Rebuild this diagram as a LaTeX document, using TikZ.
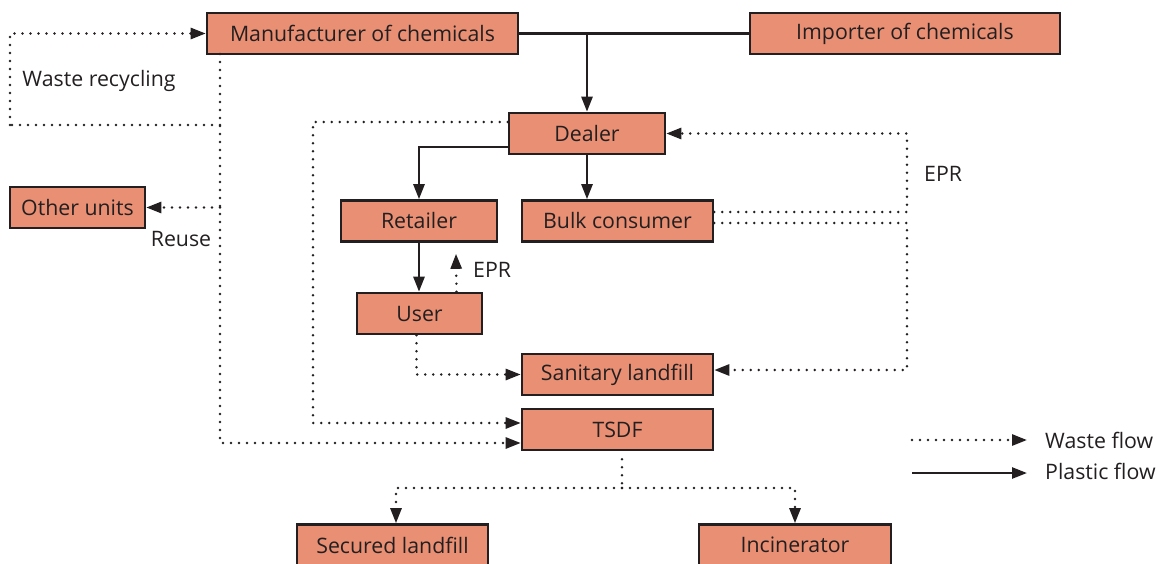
\documentclass[tikz,border=0pt]{standalone}
\usepackage{fontspec}
\setmainfont{Open Sans}
\usetikzlibrary{arrows.meta}
\definecolor{boxfill}{HTML}{E98F74}
\definecolor{ink}{HTML}{231F20}
\begin{document}
\begin{tikzpicture}[x=1pt,y=-1pt,
  font=\fontsize{21.3}{25}\selectfont,
  every node/.style={text=ink},
  unit/.style={draw=ink,fill=boxfill,line width=2.6pt,inner sep=0pt,
    minimum height=41pt},
  plastic/.style={draw=ink,line width=2.5pt,-{Triangle[length=15pt,width=11pt]}},
  plainline/.style={draw=ink,line width=2.5pt},
  waste/.style={draw=ink,line width=2.7pt,line cap=round,
    dash pattern=on 0pt off 8pt,-{Triangle[length=15pt,width=11pt]}},
  wasteline/.style={draw=ink,line width=2.7pt,line cap=round,
    dash pattern=on 0pt off 8pt},
  lbl/.style={inner sep=0pt}]
\useasboundingbox (0,0) rectangle (1158,563);
\clip (0,0) rectangle (1158,563);

% units
\node[unit,minimum width=311pt] (manu) at (362.5,33.5) {Manufacturer of chemicals};
\node[unit,minimum width=310pt] (imp) at (905,33.5) {Importer of chemicals};
\node[unit,minimum width=156pt] (dealer) at (587,133.5) {Dealer};
\node[unit,minimum width=156pt] (retailer) at (419,221) {Retailer};
\node[unit,minimum width=191pt] (bulk) at (617.5,221) {Bulk consumer};
\node[unit,minimum width=125pt] (user) at (419.5,313.5) {User};
\node[unit,minimum width=191pt] (sanitary) at (617.5,374.5) {Sanitary landfill};
\node[unit,minimum width=191pt] (tsdf) at (617.5,429.5) {TSDF};
\node[unit,minimum width=135pt] (other) at (77.5,207.5) {Other units};
\node[unit,minimum width=191pt] (secured) at (392.5,545) {Secured landfill};
\node[unit,minimum width=192pt] (incin) at (795,545) {Incinerator};

% routing points
\coordinate (mx) at (220,54);
\coordinate (wr) at (220,125);
\coordinate (wl) at (10,125);
\coordinate (lx) at (313,300);
\coordinate (rx) at (907,300);
\coordinate (tj) at (622,488);

% plastic flow
\draw[plainline] (manu.east) -- (imp.west);
\draw[plastic] (dealer.north |- manu.east) -- (dealer.north);
\draw[plastic] (dealer.south) -- (dealer.south |- bulk.north);
\draw[plastic] ([yshift=-13.5pt]dealer.west) -| (retailer.north);
\draw[plastic] (retailer.south) -- (retailer.south |- user.north);

% waste flow
\draw[waste] ([xshift=37pt]user.north) -- ([xshift=37pt,yshift=-11pt]retailer.south);
\draw[waste] ([xshift=-3pt]user.south) |- (sanitary.west);
\draw[waste] ([yshift=11.5pt]dealer.west) -| (lx) |- ([yshift=6.5pt]tsdf.west);
\draw[waste] (mx) |- ([yshift=-13.5pt]tsdf.west);
\draw[wasteline] (wr) -- (wl);
\draw[waste] (wl) |- (manu.west);
\draw[waste] (other.east -| mx) -- (other.east);
\draw[waste] ([yshift=9pt]bulk.east) -| (dealer.east -| rx) -- (dealer.east);
\draw[waste] ([yshift=-2pt]bulk.east) -| ([yshift=4.5pt]sanitary.east -| rx) -- ([yshift=4.5pt]sanitary.east);
\draw[wasteline] ([xshift=4.5pt,yshift=-8pt]tsdf.south) -- (tj);
\draw[waste] (tj) -| ([xshift=3.5pt]secured.north);
\draw[waste] (tj) -| (incin.north);

% labels
\node[lbl] (lrec) at (99,81) {Waste recycling};
\node[lbl] (lreuse) at (181,239) {Reuse};
\node[lbl,anchor=west] (lepr1) at (924,174) {EPR};
\node[lbl,anchor=west] (lepr2) at (473,270) {EPR};

% legend
\coordinate (lw1) at (912,440);
\coordinate (lw2) at (1027,440);
\coordinate (lp1) at (912,473);
\coordinate (lp2) at (1027,473);
\draw[waste] (lw1) -- (lw2);
\draw[plastic] (lp1) -- (lp2);
\node[lbl,anchor=west] (lwaste) at (1045,440) {Waste flow};
\node[lbl,anchor=west] (lplastic) at (1045,471) {Plastic flow};
\end{tikzpicture}
\end{document}
